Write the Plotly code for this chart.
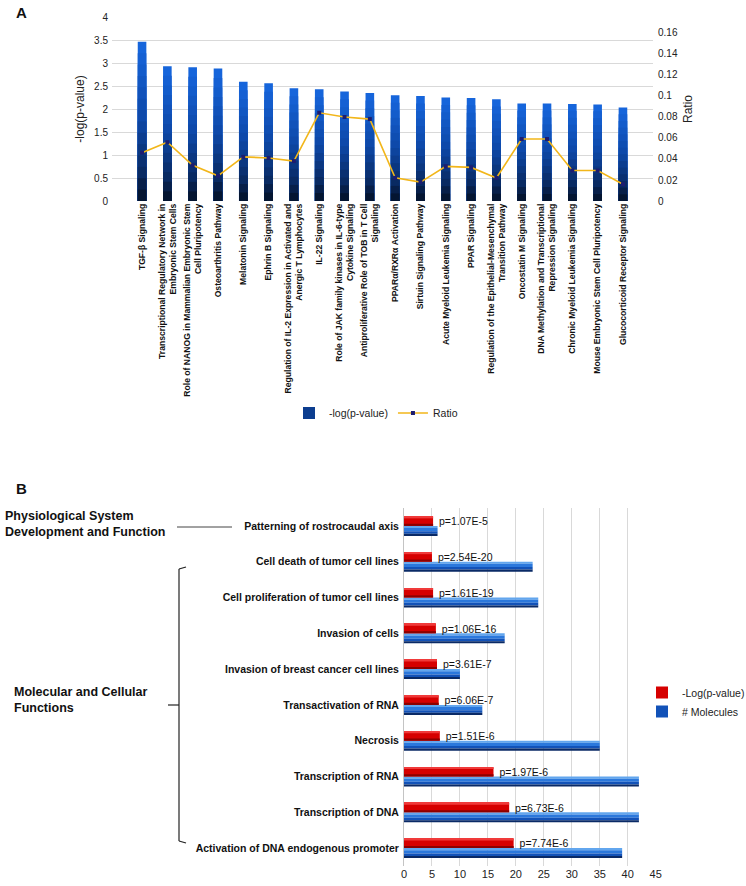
import plotly.graph_objects as go

# ---------------- data ----------------
pathways = [
    "TGF-β Signaling",
    "Transcriptional Regulatory Network in<br>Embryonic Stem Cells",
    "Role of NANOG in Mammalian Embryonic Stem<br>Cell Pluripotency",
    "Osteoarthritis Pathway",
    "Melatonin Signaling",
    "Ephrin B Signaling",
    "Regulation of IL-2 Expression in Activated and<br>Anergic T Lymphocytes",
    "IL-22 Signaling",
    "Role of JAK family kinases in IL-6-type<br>Cytokine Signaling",
    "Antiproliferative Role of TOB in T Cell<br>Signaling",
    "PPARα/RXRα Activation",
    "Sirtuin Signaling Pathway",
    "Acute Myeloid Leukemia Signaling",
    "PPAR Signaling",
    "Regulation of the Epithelial-Mesenchymal<br>Transition Pathway",
    "Oncostatin M Signaling",
    "DNA Methylation and Transcriptional<br>Repression Signaling",
    "Chronic Myeloid Leukemia Signaling",
    "Mouse Embryonic Stem Cell Pluripotency",
    "Glucocorticoid Receptor Signaling",
]
neg_log_p = [3.46, 2.93, 2.91, 2.88, 2.59, 2.56, 2.45, 2.43, 2.38, 2.35,
             2.30, 2.28, 2.25, 2.24, 2.21, 2.12, 2.12, 2.11, 2.10, 2.03]
ratio = [0.046, 0.056, 0.034, 0.024, 0.042, 0.041, 0.038, 0.084, 0.080, 0.078,
         0.022, 0.018, 0.033, 0.032, 0.022, 0.059, 0.059, 0.029, 0.029, 0.016]

functions = [
    "Patterning of rostrocaudal axis",
    "Cell death of tumor cell lines",
    "Cell proliferation of tumor cell lines",
    "Invasion of cells",
    "Invasion of breast cancer cell lines",
    "Transactivation of RNA",
    "Necrosis",
    "Transcription of RNA",
    "Transcription of DNA",
    "Activation of DNA endogenous promoter",
]
fn_neg_log_p = [5.2, 5.0, 5.2, 5.7, 5.9, 6.2, 6.4, 16.0, 18.8, 19.6]
fn_molecules = [6, 23, 24, 18, 10, 14, 35, 42, 42, 39]
fn_pvalues = ["1.07E-5", "2.54E-20", "1.61E-19", "1.06E-16", "3.61E-7",
              "6.06E-7", "1.51E-6", "1.97E-6", "6.73E-6", "7.74E-6"]

left_ticks = [0, 0.5, 1, 1.5, 2, 2.5, 3, 3.5, 4]
left_ticktext = ["0", "0.5", "1", "1.5", "2", "2.5", "3", "3.5", "4"]
right_ticks = [0, 0.02, 0.04, 0.06, 0.08, 0.1, 0.12, 0.14, 0.16]
bottom_ticks = [0, 5, 10, 15, 20, 25, 30, 35, 40, 45]

# ---------------- geometry helpers ----------------
W, H = 746, 886
def px(x):
    return x / W
def py(y):
    return 1 - y / H

FONT = "Arial, Liberation Sans, sans-serif"

def hex2rgb(h):
    h = h.lstrip("#")
    return tuple(int(h[i:i + 2], 16) for i in (0, 2, 4))

def interp(stops, f):
    for (f0, c0), (f1, c1) in zip(stops[:-1], stops[1:]):
        if f0 <= f <= f1:
            t = (f - f0) / (f1 - f0) if f1 > f0 else 0
            a, b = hex2rgb(c0), hex2rgb(c1)
            r = [round(a[i] + (b[i] - a[i]) * t) for i in range(3)]
            return "rgb(%d,%d,%d)" % tuple(r)
    return stops[-1][1]

fig = go.Figure()

# ---------------- panel A: gradient bars (overlaid layers) ----------------
stops_a = [(0.0, "#031025"), (0.18, "#092a62"), (0.5, "#0d47a6"), (1.0, "#1767df")]
N = 14
LEG_LAYER = 8
for k in range(N):
    frac = 1 - k / N
    fig.add_trace(go.Bar(
        x=pathways, y=[v * frac for v in neg_log_p],
        width=0.34,
        marker=dict(color=interp(stops_a, frac - 0.5 / N), line=dict(width=0)),
        name="-log(p-value)", showlegend=(k == LEG_LAYER), legend="legend",
        xaxis="x", yaxis="y", hoverinfo="skip" if k else None,
    ))

fig.add_trace(go.Scatter(
    x=pathways, y=ratio, mode="lines+markers", name="Ratio",
    line=dict(color="#f2b61a", width=1.6),
    marker=dict(symbol="square", size=4, color="#1d1d70"),
    xaxis="x", yaxis="y2", legend="legend",
))

# ---------------- panel B: horizontal grouped bars with stripes ----------------
blue_slices = [(0.00, 0.06, "#62a6ee"), (0.06, 0.15, "#2b78dc"),
               (0.15, 0.22, "#1252b8"), (0.22, 0.28, "#0a2a66")]
for j, (a, b, c) in enumerate(blue_slices):
    fig.add_trace(go.Bar(
        y=functions, x=fn_molecules, orientation="h",
        offset=a, width=b - a,
        marker=dict(color=c, line=dict(width=0)),
        name="# Molecules", showlegend=(j == 2), legendrank=2,
        legend="legend2", xaxis="x3", yaxis="y3",
    ))

fig.add_trace(go.Bar(
    y=functions, x=fn_neg_log_p, orientation="h",
    offset=-0.26, width=0.26,
    marker=dict(color="#d60000", line=dict(width=0)),
    name="-Log(p-value)", showlegend=True, legendrank=1, legend="legend2",
    customdata=fn_pvalues, texttemplate="\u00a0p=%{customdata}",
    textposition="outside", constraintext="none", cliponaxis=False,
    textfont=dict(family=FONT, size=10.5, color="#111111"),
    xaxis="x3", yaxis="y3",
))
for a, b, c in [(-0.26, -0.21, "#f03a3a"), (-0.06, 0.0, "#8c0000")]:
    fig.add_trace(go.Bar(
        y=functions, x=fn_neg_log_p, orientation="h",
        offset=a, width=b - a,
        marker=dict(color=c, line=dict(width=0)),
        showlegend=False, legend="legend2", xaxis="x3", yaxis="y3",
    ))

# ---------------- layout ----------------
grid = "#d9d9d9"
fig.update_layout(
    width=W, height=H,
    margin=dict(l=0, r=0, t=0, b=0, autoexpand=False),
    paper_bgcolor="white", plot_bgcolor="white",
    font=dict(family=FONT, color="#222222"),
    barmode="overlay",
    xaxis=dict(
        domain=[px(112), px(653)], anchor="y", automargin=False,
        type="category", tickangle=-90,
        tickfont=dict(size=8.6, weight="bold", color="#111111", family=FONT),
        showgrid=False, ticks="", showline=False, zeroline=False,
    ),
    yaxis=dict(
        domain=[py(201), py(17)], anchor="x", automargin=False,
        range=[0, 4], tickvals=left_ticks, ticktext=left_ticktext,
        showgrid=True, gridcolor=grid, gridwidth=1, zeroline=False,
        tickfont=dict(size=10, color="#222222"), ticks="",
        ticklabelstandoff=3,
        title=dict(text="-log(p-value)", font=dict(size=12), standoff=6),
    ),
    yaxis2=dict(
        overlaying="y", side="right", anchor="x", automargin=False,
        range=[0, 0.1752], tickvals=right_ticks,
        showgrid=False, zeroline=False, ticks="",
        tickfont=dict(size=10, color="#222222"), ticklabelstandoff=4,
        title=dict(text="Ratio", font=dict(size=12), standoff=6),
    ),
    xaxis3=dict(
        domain=[px(404), px(655.7)], anchor="y3", automargin=False,
        range=[0, 45], tickvals=bottom_ticks,
        showgrid=True, gridcolor=grid, gridwidth=1, zeroline=False,
        tickfont=dict(size=11, color="#222222"), ticks="",
    ),
    yaxis3=dict(
        domain=[py(866), py(508)], anchor="x3", automargin=False,
        type="category", categoryorder="array", categoryarray=functions,
        autorange="reversed",
        tickfont=dict(size=10.5, weight="bold", color="#111111", family=FONT),
        ticks="", ticklabelstandoff=2,
        showline=True, linecolor="#c4c4c4", linewidth=1, showgrid=False,
    ),
    legend=dict(
        orientation="h", x=px(376), y=py(413), xanchor="center", yanchor="middle",
        font=dict(size=10.5, color="#222222"), bgcolor="rgba(0,0,0,0)",
        itemwidth=30,
    ),
    legend2=dict(
        orientation="v", x=px(642), y=py(678), xanchor="left", yanchor="top",
        font=dict(size=10.5, color="#222222"), bgcolor="rgba(0,0,0,0)",
        itemwidth=30, tracegroupgap=0,
    ),
    showlegend=True,
)

annos = [
    dict(text="<b>A</b>", x=px(14), y=py(12), font=dict(size=15, color="#111")),
    dict(text="<b>B</b>", x=px(14), y=py(488), font=dict(size=15, color="#111")),
    dict(text="<b>Physiological System<br>Development and Function</b>",
         x=px(3), y=py(524), font=dict(size=12.5, color="#111"), align="left"),
    dict(text="<b>Molecular and Cellular<br>Functions</b>",
         x=px(12), y=py(700), font=dict(size=12.5, color="#111"), align="left"),
]
for a in annos:
    a.update(xref="paper", yref="paper", xanchor="left", yanchor="middle", showarrow=False)
    fig.add_annotation(**a)

def seg(x0, y0, x1, y1, color="#222", w=1.2):
    fig.add_shape(type="line", xref="paper", yref="paper",
                  x0=px(x0), y0=py(y0), x1=px(x1), y1=py(y1),
                  line=dict(color=color, width=w))

seg(177, 527, 232, 527, color="#444", w=1)
seg(179, 569, 179, 841)
seg(179, 569, 186, 567)
seg(179, 841, 186, 843)
seg(168, 705, 179, 705)

fig.write_html(
    "out.html",
    config={"displayModeBar": False},
    post_script="document.body.style.margin='0';document.body.style.overflow='hidden';",
)
